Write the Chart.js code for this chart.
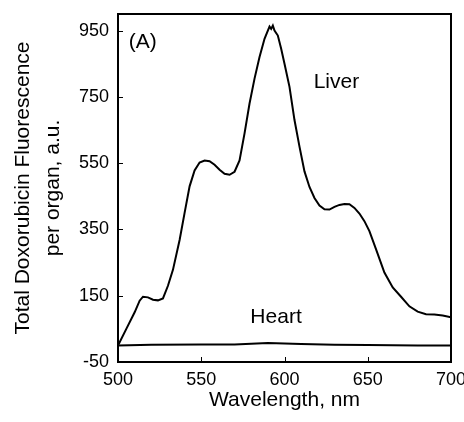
<!DOCTYPE html>
<html>
<head>
<meta charset="utf-8">
<script src="https://cdn.jsdelivr.net/npm/chart.js@4/dist/chart.umd.min.js"></script>
<style>
html,body{margin:0;padding:0;background:#fff;}
#c{display:block;}
</style>
</head>
<body>
<canvas id="c" width="464" height="422"></canvas>
<script>
// Data
const liverWavelength = [500,505,510,513,515,518,521,524,527,530,533,537,540,543,546,549,552,555,558,561,564,567,570,573,576,579,582,585,588,590,591,592,593,594,596,598,600,603,606,609,612,615,618,621,624,627,630,633,636,639,642,645,648,651,655,660,665,670,675,680,685,690,695,700];
const liverValues     = [0,50,100,135,147,145,138,136,142,180,228,318,400,480,528,552,558,556,545,530,518,515,524,558,640,730,805,870,925,950,962,955,965,950,935,895,850,780,680,600,525,478,445,422,411,410,418,424,427,426,415,398,375,345,290,220,175,147,118,102,94,93,90,85];
const heartWavelength = [500,520,550,570,580,590,600,610,630,650,680,700];
const heartValues     = [0,2,3,3,5,7,6,4,2,1,0,0];
const xTicks = [500,550,600,650,700];
const yTicks = [-50,150,350,550,750,950];
const xRange = [500,700];
const yRange = [-50,1000];
const labels = [
  {text:'(A)',   x:506.5, y:914},
  {text:'Liver', x:617.5, y:793},
  {text:'Heart', x:579.5, y:86}
];

const FONT = "'Liberation Sans', Arial, Helvetica, sans-serif";

const framePlugin = {
  id:'frame',
  afterDraw(chart){
    const ctx = chart.ctx, a = chart.chartArea;
    const xs = chart.scales.x, ys = chart.scales.y;
    ctx.save();
    ctx.strokeStyle = '#000';
    ctx.lineWidth = 1;
    ctx.beginPath();
    xs.ticks.forEach(t=>{
      const px = Math.round(xs.getPixelForValue(t.value))+0.5;
      ctx.moveTo(px, a.bottom); ctx.lineTo(px, a.bottom-5);
    });
    ys.ticks.forEach(t=>{
      const py = Math.round(ys.getPixelForValue(t.value))+0.5;
      ctx.moveTo(a.left, py); ctx.lineTo(a.left+5, py);
    });
    ctx.stroke();
    ctx.lineWidth = 2;
    ctx.strokeRect(a.left, a.top, a.right-a.left, a.bottom-a.top);
    ctx.fillStyle = '#000';
    ctx.font = '21px ' + FONT;
    ctx.textBaseline = 'middle';
    ctx.textAlign = 'left';
    labels.forEach(l=>{
      ctx.fillText(l.text, xs.getPixelForValue(l.x), ys.getPixelForValue(l.y));
    });
    ctx.restore();
  }
};

new Chart(document.getElementById('c'), {
  type:'scatter',
  data:{
    datasets:[
      {data: liverWavelength.map((w,i)=>({x:w,y:liverValues[i]})), showLine:true, borderColor:'#000', borderWidth:2, pointRadius:0, tension:0, fill:false},
      {data: heartWavelength.map((w,i)=>({x:w,y:heartValues[i]})), showLine:true, borderColor:'#000', borderWidth:2, pointRadius:0, tension:0, fill:false}
    ]
  },
  options:{
    responsive:false,
    animation:false,
    devicePixelRatio:1,
    layout:{padding:{top:14,right:13,left:0,bottom:0}},
    plugins:{legend:{display:false}, tooltip:{enabled:false}},
    scales:{
      x:{
        type:'linear', min:xRange[0], max:xRange[1],
        grid:{display:false, drawTicks:false},
        border:{display:false},
        afterBuildTicks(s){ s.ticks = xTicks.map(v=>({value:v})); },
        afterFit(s){ s.height = 60; s.paddingLeft = 0; s.paddingRight = 0; },
        ticks:{color:'#000', font:{family:FONT, size:18}, padding:7, maxRotation:0, autoSkip:false},
        title:{display:true, text:'Wavelength, nm', color:'#000', font:{family:FONT, size:21}, padding:{top:0,bottom:9}}
      },
      y:{
        type:'linear', min:yRange[0], max:yRange[1],
        grid:{display:false, drawTicks:false},
        border:{display:false},
        afterBuildTicks(s){ s.ticks = yTicks.map(v=>({value:v})); },
        afterFit(s){ s.width = 118; s.paddingTop = 0; s.paddingBottom = 0; },
        ticks:{color:'#000', font:{family:FONT, size:18}, padding:9, autoSkip:false},
        title:{display:true, text:['Total Doxorubicin Fluorescence','per organ, a.u.'], color:'#000', font:{family:FONT, size:21, lineHeight:1.4}, padding:{top:9,bottom:0}}
      }
    }
  },
  plugins:[framePlugin]
});
</script>
</body>
</html>
